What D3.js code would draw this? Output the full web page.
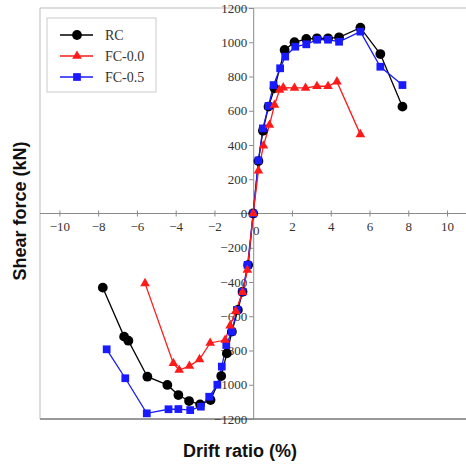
<!DOCTYPE html>
<html><head><meta charset="utf-8">
<script src="https://cdn.jsdelivr.net/npm/d3@7"></script>
<style>body{margin:0;background:#fff} .serif{font-family:'Liberation Serif','Times New Roman',serif}</style>
</head><body>
<svg id="c" width="466" height="467"></svg>
<script>
const xTicks = [-10,-8,-6,-4,-2,0,2,4,6,8,10];
const yTicks = [-1200,-1000,-800,-600,-400,-200,0,200,400,600,800,1000,1200];
const rcDrift = [-7.76,-6.66,-6.44,-5.46,-4.43,-3.86,-3.31,-2.74,-2.2,-1.65,-1.36,-1.1,-0.79,-0.55,-0.26,0,0.27,0.5,0.79,1.1,1.62,2.13,2.74,3.29,3.86,4.43,5.53,6.56,7.7];
const rcForce = [-433,-719,-743,-953,-1001,-1060,-1095,-1115,-1089,-949,-817,-690,-563,-457,-301,0,306,483,624,731,955,1000,1019,1023,1023,1029,1085,931,624];
const fc00Drift = [-5.58,-4.12,-3.82,-3.29,-2.77,-2.22,-1.45,-1.19,-0.9,-0.55,-0.3,0,0.27,0.53,0.84,1.1,1.36,1.55,2.13,2.7,3.29,3.86,4.32,5.53];
const fc00Force = [-408,-875,-914,-891,-852,-756,-739,-655,-570,-460,-330,0,250,396,517,634,721,735,733,733,743,743,770,462];
const fc05Drift = [-7.56,-6.6,-5.49,-4.37,-3.86,-3.25,-2.7,-2.27,-1.85,-1.62,-1.39,-1.1,-0.84,-0.55,-0.29,0,0.27,0.5,0.79,1.05,1.39,1.65,2.17,2.74,3.3,3.86,4.43,5.53,6.56,7.7];
const fc05Force = [-793,-962,-1167,-1143,-1142,-1148,-1128,-1070,-1000,-894,-768,-690,-563,-457,-300,0,310,497,628,750,848,916,974,988,1015,1015,1003,1062,857,750];
const seriesNames = ["RC","FC-0.0","FC-0.5"];

const svg = d3.select("#c");
const x = d3.scaleLinear().domain([-11,11]).range([40,466.4]);
const y = d3.scaleLinear().domain([-1200,1200]).range([419,8]);
const axisCol = "#8a8a8a";
const txtCol = "#333";
const serif = "'Liberation Serif','Times New Roman',serif";

// frame
svg.append("line").attr("x1",40).attr("x2",466).attr("y1",8).attr("y2",8).attr("stroke","#bbb").attr("stroke-width",1);
svg.append("line").attr("x1",40).attr("x2",40).attr("y1",8).attr("y2",419).attr("stroke","#bbb").attr("stroke-width",1);
svg.append("line").attr("x1",40).attr("x2",466).attr("y1",419).attr("y2",419).attr("stroke","#999").attr("stroke-width",2);

// axes
const xAxis = d3.axisBottom(x).tickValues(xTicks).tickSize(0).tickPadding(8).tickFormat(d=>d===0?"":d3.format("d")(d));
const gx = svg.append("g").attr("transform",`translate(0,${y(0)})`).call(xAxis).attr("font-family",serif).attr("font-size",13);
gx.select(".domain").attr("stroke",axisCol).attr("d",`M40,0H466`);
gx.selectAll(".tick").append("line").attr("y1",-3).attr("y2",3).attr("stroke",axisCol);
gx.selectAll("text").attr("fill",txtCol).style("font-family",serif);
const yAxis = d3.axisLeft(y).tickValues(yTicks).tickSize(4).tickPadding(2).tickFormat(d3.format("d"));
const gy = svg.append("g").attr("transform",`translate(${x(0)},0)`).call(yAxis).attr("font-family",serif).attr("font-size",13);
gy.select(".domain").attr("stroke",axisCol);
gy.selectAll(".tick line").attr("stroke",axisCol);
gy.selectAll("text").attr("fill",txtCol).style("font-family",serif);
// 0 label of x axis
svg.append("text").attr("x",x(0)+3).attr("y",y(0)+21).attr("text-anchor","middle")
  .style("font-family",serif).attr("font-size",13).attr("fill",txtCol).text("0");

// series
const line = d3.line().x(d=>x(d[0])).y(d=>y(d[1]));
const series = [
  {name:seriesNames[0], pts:d3.zip(rcDrift,rcForce), color:"#000", sym:d3.symbolCircle, size:75},
  {name:seriesNames[2], pts:d3.zip(fc05Drift,fc05Force), color:"#1a1aff", sym:d3.symbolSquare, size:60},
  {name:seriesNames[1], pts:d3.zip(fc00Drift,fc00Force), color:"#ff1a1a", sym:d3.symbolTriangle, size:40},
];
series.forEach(s=>{
  svg.append("path").attr("d",line(s.pts)).attr("fill","none").attr("stroke",s.color).attr("stroke-width",1.3);
});
series.forEach(s=>{
  svg.append("g").selectAll("path").data(s.pts).join("path")
    .attr("transform",d=>`translate(${x(d[0])},${y(d[1])})`)
    .attr("d",d3.symbol(s.sym,s.size)).attr("fill",s.color);
});

// legend
const lg = svg.append("g");
lg.append("rect").attr("x",47).attr("y",18).attr("width",109).attr("height",74).attr("fill","#fff").attr("stroke","#ccc");
const legItems = [series[0],series[2],series[1]];
legItems.forEach((s,i)=>{
  const ly = 35 + i*21;
  lg.append("line").attr("x1",60).attr("x2",93).attr("y1",ly).attr("y2",ly).attr("stroke",s.color).attr("stroke-width",1.3);
  lg.append("path").attr("transform",`translate(77,${ly})`).attr("d",d3.symbol(s.sym,s.size)).attr("fill",s.color);
  lg.append("text").attr("x",105).attr("y",ly+5).style("font-family",serif)
    .attr("font-size",14).attr("fill",txtCol).text(s.name);
});

// titles
svg.append("text").attr("x",240).attr("y",457).attr("text-anchor","middle")
  .attr("font-family","'Liberation Sans',Arial,sans-serif").attr("font-weight","bold").attr("font-size",18).attr("fill","#111").text("Drift ratio (%)");
svg.append("text").attr("transform","translate(26,211) rotate(-90)").attr("text-anchor","middle")
  .attr("font-family","'Liberation Sans',Arial,sans-serif").attr("font-weight","bold").attr("font-size",18).attr("fill","#111").text("Shear force (kN)");
</script>
</body></html>
